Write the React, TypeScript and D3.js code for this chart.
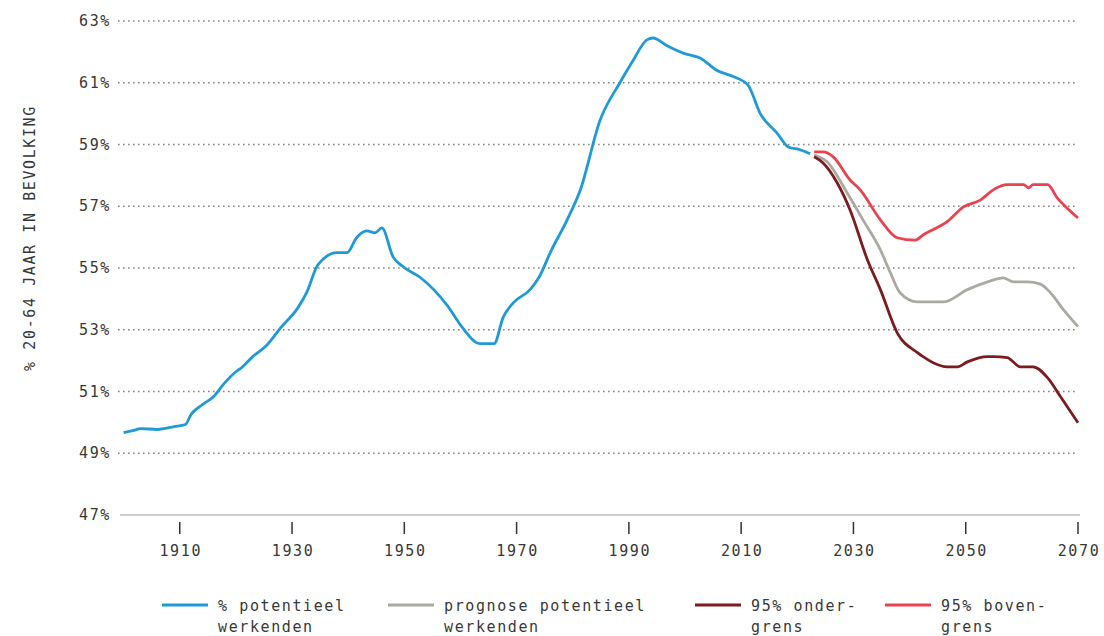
import React, { useEffect, useRef } from "react";
import * as d3 from "d3";

// historic share of 20-64 year olds in population (%)
const histYears = [1900, 1902, 1903, 1906, 1909, 1911, 1912, 1914, 1916, 1918, 1920, 1921, 1923, 1925.5, 1928, 1931, 1932.6, 1934.6, 1938, 1939.8, 1941.5, 1943.3, 1944.8, 1946, 1948, 1949.8, 1952.8, 1957.6, 1960.4, 1963, 1963.5, 1966, 1967.6, 1969.4, 1972.4, 1974, 1976, 1979, 1981.3, 1984.9, 1988.4, 1990.8, 1993.2, 1994.3, 1996.8, 1999.7, 2002.7, 2005.7, 2008.6, 2011.2, 2013.4, 2016.4, 2018.4, 2020.5, 2022.3];
const histValues = [49.67, 49.75, 49.8, 49.77, 49.86, 49.93, 50.25, 50.57, 50.83, 51.28, 51.64, 51.77, 52.13, 52.5, 53.07, 53.7, 54.2, 55.1, 55.5, 55.5, 55.98, 56.2, 56.14, 56.3, 55.36, 55.04, 54.7, 53.8, 53.06, 52.57, 52.55, 52.55, 53.4, 53.87, 54.3, 54.7, 55.5, 56.56, 57.5, 59.8, 61.0, 61.74, 62.39, 62.45, 62.2, 61.96, 61.8, 61.4, 61.2, 60.93, 60.0, 59.37, 58.92, 58.83, 58.7];

const progYears = [2023, 2025.3, 2028.9, 2031.7, 2034.8, 2036.6, 2038.3, 2041.4, 2046, 2050.3, 2053.9, 2056.7, 2058.5, 2061, 2063.3, 2065.1, 2067.4, 2070];
const progValues = [58.66, 58.44, 57.43, 56.56, 55.59, 54.84, 54.2, 53.9, 53.9, 54.3, 54.55, 54.68, 54.55, 54.55, 54.48, 54.2, 53.65, 53.1];

const lowYears = [2023, 2024.6, 2027.1, 2029.4, 2032.5, 2034.8, 2037.8, 2041.4, 2042.4, 2044.2, 2046.7, 2048.5, 2050.3, 2053.9, 2054.9, 2057.4, 2059.7, 2062, 2064.6, 2066.9, 2070];
const lowValues = [58.6, 58.4, 57.76, 56.88, 55.26, 54.3, 52.9, 52.26, 52.13, 51.93, 51.8, 51.8, 51.96, 52.13, 52.13, 52.1, 51.8, 51.8, 51.44, 50.83, 49.99];

const highYears = [2023, 2024.6, 2026.4, 2029.4, 2031.2, 2034.8, 2037.8, 2041, 2042.4, 2046.7, 2049.6, 2052.6, 2054.9, 2057.4, 2060.3, 2061.2, 2062, 2064.6, 2066.3, 2068, 2070];
const highValues = [58.76, 58.76, 58.6, 57.85, 57.53, 56.56, 55.98, 55.9, 56.07, 56.5, 56.98, 57.2, 57.53, 57.7, 57.7, 57.6, 57.7, 57.7, 57.27, 56.95, 56.62];

const yTicks = [47, 49, 51, 53, 55, 57, 59, 61, 63];
const xTicks = [1910, 1930, 1950, 1970, 1990, 2010, 2030, 2050, 2070];

const seriesNames = ["hist", "prog", "low", "high"];
const seriesColors = ["#1f9ad5", "#aaaaa0", "#7b1c1f", "#e8434f"];
const legendLabels = [["% potentieel", "werkenden"], ["prognose potentieel", "werkenden"], ["95% onder-", "grens"], ["95% boven-", "grens"]];

const FONT = "'DejaVu Sans Mono', 'Liberation Mono', monospace";

export default function App() {
  const ref = useRef<SVGSVGElement>(null);

  useEffect(() => {
    const svg = d3.select(ref.current);
    svg.selectAll("*").remove();
    const width = 1104;
    const height = 636;
    const margin = { top: 21, right: 26, bottom: 121, left: 118 };

    const x = d3.scaleLinear().domain([1899, 2070]).range([margin.left, width - margin.right]);
    const y = d3.scaleLinear().domain([47, 63]).range([height - margin.bottom, margin.top]);
    const color = d3.scaleOrdinal<string, string>().domain(seriesNames).range(seriesColors);
    const txt = (sel: any) => sel.style("font-family", FONT).style("font-size", "15px")
      .style("letter-spacing", "1.6px").attr("fill", "#383838");

    // grid
    svg.append("g").selectAll("line").data(yTicks.filter((t) => t !== 47)).join("line")
      .attr("x1", margin.left).attr("x2", width - margin.right)
      .attr("y1", (d) => y(d)).attr("y2", (d) => y(d))
      .attr("stroke", "#858585").attr("stroke-width", 1.6).attr("stroke-dasharray", "1.6 3.4");
    svg.append("line").attr("x1", margin.left + 2).attr("x2", width - margin.right + 2)
      .attr("y1", y(47)).attr("y2", y(47)).attr("stroke", "#bdbdbd").attr("stroke-width", 1.5);

    svg.append("g").selectAll("text").data(yTicks).join("text")
      .attr("x", 111).attr("y", (d) => y(d) + 5).attr("text-anchor", "end")
      .call(txt).text((d) => `${d}%`);

    const xg = svg.append("g").selectAll("g").data(xTicks).join("g")
      .attr("transform", (d) => `translate(${x(d)},0)`);
    xg.append("line").attr("y1", 522).attr("y2", 534).attr("stroke", "#333").attr("stroke-width", 1.5);
    xg.append("text").attr("x", 1).attr("y", 556).attr("text-anchor", "middle")
      .call(txt).text((d) => d);

    svg.append("text").attr("transform", `translate(35,${238}) rotate(-90)`).attr("text-anchor", "middle")
      .call(txt).text("% 20-64 JAAR IN BEVOLKING");

    const series = [
      histYears.map((yr, i) => [yr, histValues[i]]),
      progYears.map((yr, i) => [yr, progValues[i]]),
      lowYears.map((yr, i) => [yr, lowValues[i]]),
      highYears.map((yr, i) => [yr, highValues[i]]),
    ];
    const line = d3.line<number[]>().curve(d3.curveMonotoneX).x((d) => x(d[0])).y((d) => y(d[1]));
    svg.append("g").selectAll("path").data(series).join("path")
      .attr("d", line).attr("fill", "none").attr("stroke-width", 2.8).attr("stroke-linejoin", "round")
      .attr("stroke", (d, i) => color(seriesNames[i]));

    const legendX = [162, 388, 695, 885];
    const lg = svg.append("g").selectAll("g").data(seriesNames).join("g")
      .attr("transform", (d, i) => `translate(${legendX[i]},605)`);
    lg.append("line").attr("x1", 0).attr("x2", 46).attr("stroke-width", 2.8).attr("stroke", (d) => color(d));
    lg.append("text").attr("x", 56).attr("y", 6).call(txt)
      .selectAll("tspan").data((d, i) => legendLabels[i]).join("tspan")
      .attr("x", 56).attr("dy", (d, i) => (i === 0 ? 0 : 21)).text((d) => d);
  }, []);

  return (
    <svg ref={ref} width={1104} height={636} style={{ position: "absolute", left: 0, top: 0, background: "#fff" }} />
  );
}
